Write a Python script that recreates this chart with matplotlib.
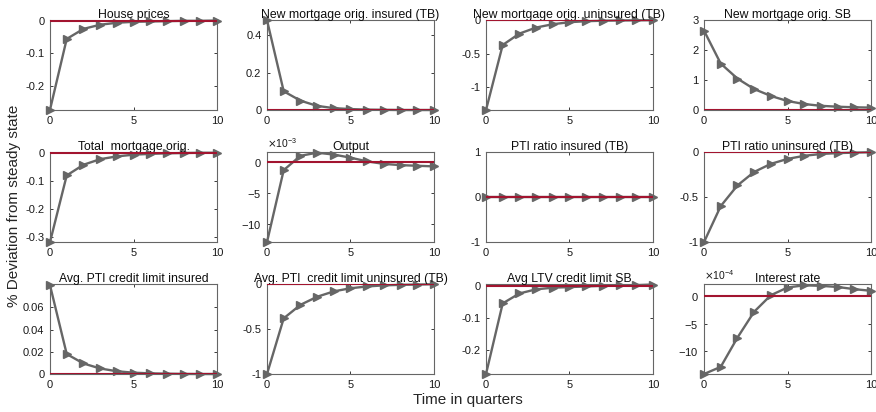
import numpy as np
import matplotlib
matplotlib.use("Agg")
import matplotlib.pyplot as plt
from matplotlib.ticker import FuncFormatter, ScalarFormatter

plt.rcParams["font.family"] = ["Liberation Sans", "DejaVu Sans"]
plt.rcParams["axes.unicode_minus"] = False

quarters = np.arange(11)

titles = [
    "House prices", "New mortgage orig. insured (TB)",
    "New mortgage orig. uninsured (TB)", "New mortgage orig. SB",
    "Total  mortgage orig.", "Output",
    "PTI ratio insured (TB)", "PTI ratio uninsured (TB)",
    "Avg. PTI credit limit insured", "Avg. PTI  credit limit uninsured (TB)",
    "Avg LTV credit limit SB", "Interest rate",
]

house_prices = [-0.274, -0.055, -0.024, -0.011, -0.005, -0.002, -0.001, 0.0, 0.001, 0.001, 0.002]
mort_insured = [0.48, 0.10, 0.05, 0.022, 0.01, 0.005, 0.002, 0.001, 0.0, 0.0, 0.0]
mort_uninsured = [-1.34, -0.37, -0.20, -0.11, -0.06, -0.03, -0.015, -0.008, -0.004, -0.002, 0.0]
mort_sb = [2.65, 1.55, 1.05, 0.70, 0.47, 0.30, 0.20, 0.14, 0.11, 0.09, 0.08]
mort_total = [-0.318, -0.080, -0.042, -0.022, -0.012, -0.006, -0.003, -0.001, 0.0, 0.001, 0.001]
output = [-12.85e-3, -1.3e-3, 1.0e-3, 1.5e-3, 1.2e-3, 0.7e-3, 0.1e-3, -0.3e-3, -0.5e-3, -0.6e-3, -0.7e-3]
pti_insured = [0.0] * 11
pti_uninsured = [-1.0, -0.60, -0.37, -0.22, -0.13, -0.075, -0.04, -0.02, -0.01, -0.005, 0.0]
pti_lim_insured = [0.080, 0.018, 0.0095, 0.005, 0.0025, 0.0012, 0.0006, 0.0003, 0.0001, 0.0, 0.0]
pti_lim_uninsured = [-1.0, -0.38, -0.23, -0.14, -0.08, -0.045, -0.025, -0.013, -0.007, -0.004, 0.0]
ltv_lim_sb = [-0.274, -0.053, -0.022, -0.009, -0.004, -0.002, 0.0, 0.002, 0.003, 0.004, 0.006]
interest = [-14.1e-4, -12.8e-4, -7.5e-4, -2.8e-4, 0.2e-4, 1.6e-4, 2.0e-4, 1.9e-4, 1.7e-4, 1.3e-4, 1.0e-4]

series = [house_prices, mort_insured, mort_uninsured, mort_sb,
          mort_total, output, pti_insured, pti_uninsured,
          pti_lim_insured, pti_lim_uninsured, ltv_lim_sb, interest]

ylims = [(-0.275, 0.003), (0, 0.48), (-1.34, 0.0), (0, 3),
         (-0.318, 0.003), (-12.85e-3, 1.58e-3), (-1, 1), (-1, 0),
         (0, 0.081), (-1, 0), (-0.274, 0.007), (-14.1e-4, 2.2e-4)]
yticks = [[-0.2, -0.1, 0], [0, 0.2, 0.4], [-1, -0.5, 0], [0, 1, 2, 3],
          [-0.3, -0.2, -0.1, 0], [-10e-3, -5e-3, 0], [-1, 0, 1], [-1, -0.5, 0],
          [0, 0.02, 0.04, 0.06], [-1, -0.5, 0], [-0.2, -0.1, 0], [-10e-4, -5e-4, 0]]
scaled = {5: -3, 11: -4}

gray = "#666666"
red = "#A2142F"

fig = plt.figure(figsize=(8.76, 4.12), dpi=100)

lefts = [0.0571, 0.3048, 0.5548, 0.8037]
bottoms = [0.733, 0.4126, 0.0922]
w, h = 0.1906, 0.218

for i, vals in enumerate(series):
    r, c = divmod(i, 4)
    ax = fig.add_axes([lefts[c], bottoms[r], w, h])
    ax.plot(quarters, vals, color=gray, lw=1.7, marker=">", ms=5.5,
            mfc=gray, mec=gray, clip_on=False, zorder=3)
    ax.axhline(0, color=red, lw=1.5, zorder=4)
    ax.set_xlim(0, 10)
    ax.set_ylim(*ylims[i])
    ax.set_xticks([0, 5, 10])
    ax.set_yticks(yticks[i])
    ax.tick_params(direction="in", length=2.5, width=0.6, labelsize=8,
                   top=True, right=True, colors="0.1", pad=4)
    for sp in ax.spines.values():
        sp.set_color("0.4")
        sp.set_linewidth(0.8)
    if i in scaled:
        fmt = ScalarFormatter(useMathText=True)
        fmt.set_powerlimits((scaled[i], scaled[i]))
        ax.yaxis.set_major_formatter(fmt)
        ax.yaxis.get_offset_text().set_fontsize(7.5)
    else:
        ax.yaxis.set_major_formatter(FuncFormatter(lambda v, p: "%g" % v))
    ax.xaxis.set_major_formatter(FuncFormatter(lambda v, p: "%g" % v))
    ax.set_title(titles[i], fontsize=8.8, pad=1.5, color="0.05")

fig.text(0.016, 0.5, "% Deviation from steady state", rotation=90,
         ha="center", va="center", fontsize=11, color="0.15")
fig.text(0.534, 0.028, "Time in quarters", ha="center", va="center",
         fontsize=11, color="0.15")

fig.savefig("out.png", dpi=100)
